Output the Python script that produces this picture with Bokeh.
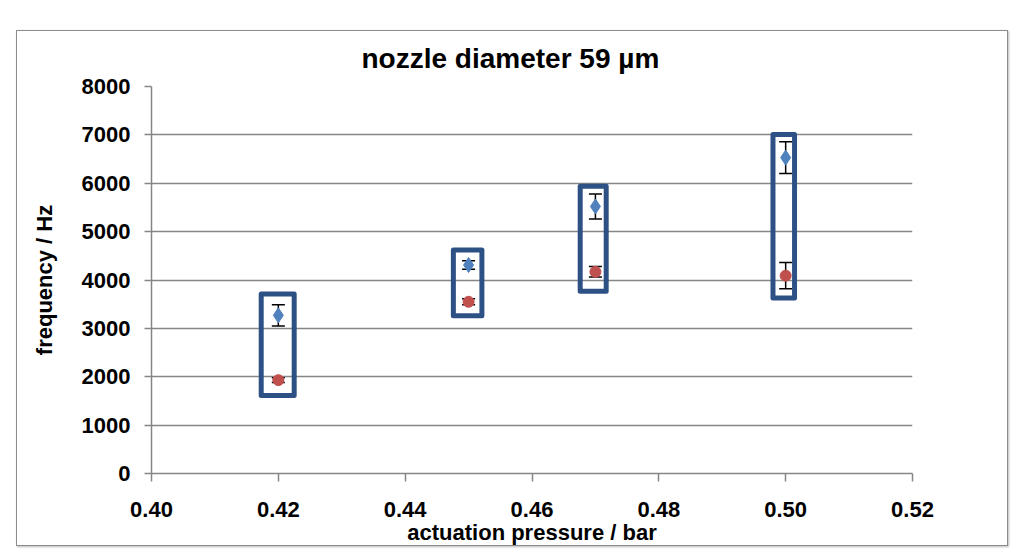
from bokeh.plotting import figure
from bokeh.models import ColumnDataSource, Whisker, TeeHead, Range1d, FixedTicker
from bokeh.embed import file_html
from bokeh.resources import INLINE

# ---- data ----
pressure = [0.42, 0.45, 0.47, 0.50]
freq_upper = [3270, 4310, 5520, 6530]
err_upper = [220, 90, 260, 330]
freq_lower = [1930, 3550, 4170, 4090]
err_lower = [50, 60, 110, 270]

# highlight boxes (data coordinates)
box_left = [0.4173, 0.4476, 0.4676, 0.4980]
box_right = [0.4225, 0.4521, 0.4717, 0.5014]
box_bottom = [1610, 3260, 3770, 3630]
box_top = [3710, 4620, 5940, 7010]

x_ticks = [0.40, 0.42, 0.44, 0.46, 0.48, 0.50, 0.52]
y_ticks = [0, 1000, 2000, 3000, 4000, 5000, 6000, 7000, 8000]

FONT = "Liberation Sans"
GRAY = "#868686"

p = figure(width=992, height=516, output_backend="svg", toolbar_location=None,
           x_range=Range1d(0.40, 0.52), y_range=Range1d(0, 8000),
           min_border_left=134, min_border_right=97, min_border_top=55, min_border_bottom=73)
p.margin = (30, 0, 0, 16)
p.styles = {"border": "1.5px solid #8C8C8C", "box-shadow": "1px 1px 2px #bbbbbb"}

p.title.text = "nozzle diameter 59 µm"
p.title.text_font = FONT
p.title.text_font_size = "28px"
p.title.text_font_style = "bold"
p.title.text_color = "black"
p.title.align = "left"
p.title.offset = 210
p.title.standoff = 22
p.title.vertical_align = "top"

p.outline_line_color = None
p.background_fill_color = "white"
p.border_fill_color = "white"

p.xgrid.grid_line_color = None
p.ygrid.grid_line_color = GRAY
p.ygrid.grid_line_width = 1.3

for ax in (p.xaxis[0], p.yaxis[0]):
    ax.axis_line_color = GRAY
    ax.axis_line_width = 1.5
    ax.major_tick_line_color = GRAY
    ax.major_tick_line_width = 1.5
    ax.minor_tick_line_color = None
    ax.major_tick_in = 0
    ax.major_label_text_font = FONT
    ax.major_label_text_font_size = "22px"
    ax.major_label_text_font_style = "bold"
    ax.major_label_text_color = "black"
    ax.axis_label_text_font = FONT
    ax.axis_label_text_font_size = "22px"
    ax.axis_label_text_font_style = "bold"
    ax.axis_label_text_color = "black"

p.xaxis.ticker = FixedTicker(ticks=x_ticks)
p.yaxis.ticker = FixedTicker(ticks=y_ticks)
p.xaxis.major_label_overrides = {t: f"{t:.2f}" for t in x_ticks}
p.xaxis.major_tick_out = 8
p.yaxis.major_tick_out = 7
p.xaxis.major_label_standoff = 20
p.yaxis.major_label_standoff = 14
p.xaxis.axis_label = "actuation pressure / bar"
p.yaxis.axis_label = "frequency / Hz"
p.xaxis.axis_label_standoff = 0
p.yaxis.axis_label_standoff = 22

# highlight boxes
p.quad(left=box_left, right=box_right, bottom=box_bottom, top=box_top,
       fill_color=None, line_color="#2E5185", line_width=5, line_join="round")

src_u = ColumnDataSource(dict(x=pressure, y=freq_upper,
                              lo=[v - e for v, e in zip(freq_upper, err_upper)],
                              hi=[v + e for v, e in zip(freq_upper, err_upper)]))
src_l = ColumnDataSource(dict(x=pressure, y=freq_lower,
                              lo=[v - e for v, e in zip(freq_lower, err_lower)],
                              hi=[v + e for v, e in zip(freq_lower, err_lower)]))

for src in (src_u, src_l):
    w = Whisker(source=src, base="x", upper="hi", lower="lo", line_color="black", line_width=1.5,
                upper_head=TeeHead(size=13, line_color="black", line_width=1.5),
                lower_head=TeeHead(size=13, line_color="black", line_width=1.5))
    p.add_layout(w)

p.scatter("x", "y", source=src_u, marker="diamond", size=15, fill_color="#4F81BD", line_color="#4F81BD")
p.scatter("x", "y", source=src_l, marker="circle", size=11, fill_color="#C0504D", line_color="#C0504D")

open("out.html", "w").write(file_html(p, INLINE))
